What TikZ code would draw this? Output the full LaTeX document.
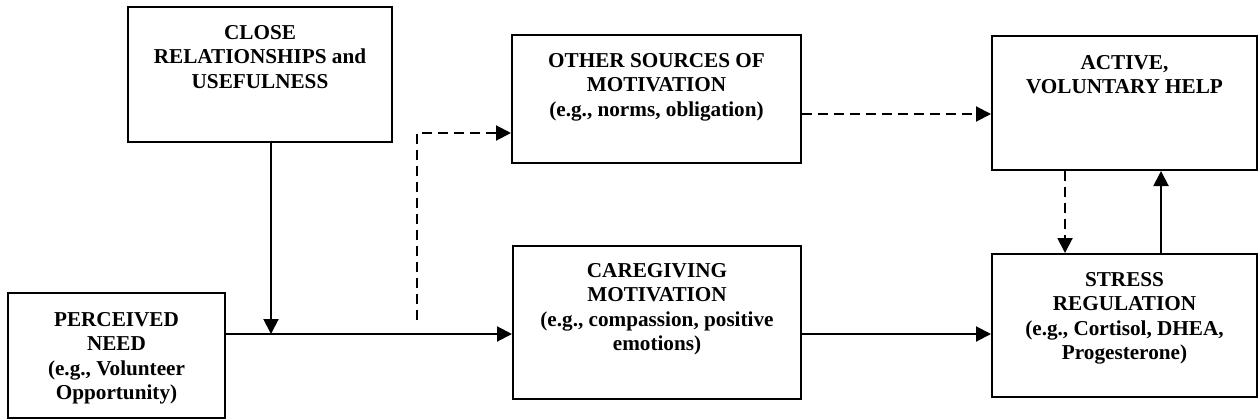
\documentclass[tikz,border=0pt]{standalone}
\usepackage{fontspec}
\setmainfont{Liberation Serif}
\usetikzlibrary{arrows.meta,positioning}

\begin{document}
\begin{tikzpicture}[x=1pt,y=-1pt,line width=2pt,
        box/.style={draw,inner sep=0pt},
        txt/.style={align=center,inner sep=0pt,font=\bfseries\fontsize{21.2}{24.5}\selectfont},
        dsh/.style={dash pattern=on 10pt off 6pt},
        >={Triangle[length=15pt,width=15pt]}]
            \useasboundingbox (0,0) rectangle (1260,420);
            \node[box,minimum width=264pt,minimum height=135pt] (close) at (260,74.5) {};
            \node[box,minimum width=217pt,minimum height=125pt] (need) at (116.5,355.5) {};
            \node[box,minimum width=289pt,minimum height=128pt] (other) at (656.5,99) {};
            \node[box,minimum width=288pt,minimum height=153pt] (care) at (657,322.5) {};
            \node[box,minimum width=265pt,minimum height=134pt] (help) at (1124.5,103) {};
            \node[box,minimum width=265pt,minimum height=143pt] (stress) at (1124.5,325.5) {};
            \node[txt,below=18pt of close.north] {CLOSE\\RELATIONSHIPS and\\USEFULNESS};
            \node[txt,below=19pt of need.north] {PERCEIVED\\NEED\\(e.g., Volunteer\\Opportunity)};
            \node[txt,below=18pt of other.north] {OTHER SOURCES OF\\MOTIVATION\\(e.g., norms, obligation)};
            \node[txt,below=17pt of care.north] {CAREGIVING\\MOTIVATION\\(e.g., compassion, positive\\emotions)};
            \node[txt,below=19pt of help.north] {ACTIVE,\\VOLUNTARY HELP};
            \node[txt,below=18pt of stress.north] {STRESS\\REGULATION\\(e.g., Cortisol, DHEA,\\Progesterone)};
            \coordinate (join) at (271,334);
            \coordinate (fork) at (417,320);
            \draw[->] ([xshift=11pt]close.south) -- (join);
            \draw[->] (need.east |- join) -- (care.west |- join);
            \draw[dsh,->] (fork) |- ([yshift=-34pt]other.west);
            \draw[->] (care.east |- join) -- (stress.west |- join);
            \draw[dsh,->] ([yshift=-15pt]other.east) -- ([yshift=-15pt]other.east -| help.west);
            \draw[dsh,->] ([xshift=-59.5pt]help.south) -- ([xshift=-59.5pt]help.south |- stress.north);
            \draw[->] ([xshift=36.5pt]stress.north) -- ([xshift=36.5pt]stress.north |- help.south);
        \end{tikzpicture}
\end{document}
